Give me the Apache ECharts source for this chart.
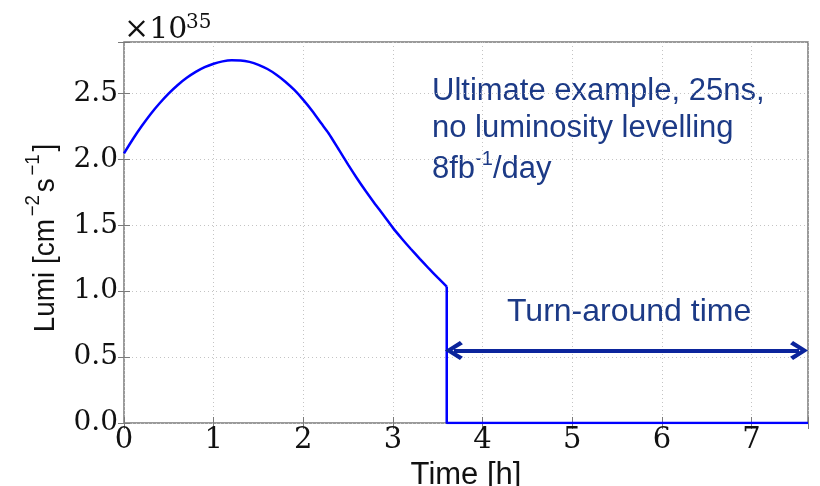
<!DOCTYPE html>
<html>
<head>
<meta charset="utf-8">
<script src="https://cdn.jsdelivr.net/npm/echarts@6/dist/echarts.min.js"></script>
<style>
  html, body { margin: 0; padding: 0; background: #fff; }
  #chart { width: 820px; height: 486px; }
</style>
</head>
<body>
<div id="chart"></div>
<script>
// luminosity over one fill (units of 1e35 cm^-2 s^-1)
const timeH = [0, 0.1, 0.2, 0.3, 0.4, 0.5, 0.6, 0.7, 0.8, 0.9, 1.0, 1.1, 1.2, 1.3, 1.4,
  1.5, 1.6, 1.7, 1.8, 1.9, 2.0, 2.1, 2.2, 2.28, 2.4, 2.5, 2.6, 2.7, 2.8, 2.9, 3.0,
  3.1, 3.2, 3.3, 3.4, 3.5, 3.6];
const lumi = [2.045, 2.154, 2.254, 2.346, 2.427, 2.50, 2.564, 2.618, 2.663, 2.699, 2.725,
  2.743, 2.751, 2.750, 2.739, 2.717, 2.685, 2.642, 2.589, 2.526, 2.451, 2.367, 2.273,
  2.20, 2.07, 1.96, 1.855, 1.756, 1.662, 1.572, 1.48, 1.398, 1.32, 1.245, 1.172, 1.102,
  1.035];
// beam dump, then nothing until the next fill
const dumpTime = [3.6, 3.6, 7.63];
const dumpLumi = [1.035, 0, 0];

const xRange = [0, 7.63];
const yRange = [0, 2.89];
// turn-around arrow shaft (the heads sit centred on the ends)
const arrowX = [3.68, 7.53];
const arrowY = 0.55;

const noteLines = ['Ultimate example, 25ns,', 'no luminosity levelling'];
const rateLabel = ['8fb', '-1', '/day'];

const gridColor = '#c4c4c4';
const frameColor = '#7a7a7a';
const noteColor = '#1c3a86';
const arrowColor = '#0b249c';
const lineColor = '#0000ff';
const tickFont = 'DejaVu Serif';
const textFont = 'Liberation Sans, Arial, sans-serif';

const chart = echarts.init(document.getElementById('chart'));

function valueAxis(range, interval, extra) {
  return {
    type: 'value',
    min: range[0],
    max: range[1],
    interval,
    axisLine: { show: false },
    axisTick: { show: true, inside: true, length: 6, lineStyle: { color: frameColor, width: 1 } },
    splitLine: { show: false },
    axisLabel: { show: false },
    ...extra,
  };
}

const onTick = (v, step) => Math.abs(v / step - Math.round(v / step)) < 1e-6;
const pairs = (xs, ys) => xs.map((x, idx) => [x, ys[idx]]);

const option = {
  animation: false,
  grid: {
    left: 124, top: 42, right: 12, bottom: 63,
    outerBoundsMode: 'none',
    containLabel: false,
    show: true, borderColor: frameColor, borderWidth: 1.5,
  },
  xAxis: [
    valueAxis(xRange, 1, {
      position: 'bottom',
      splitLine: { show: true, lineStyle: { color: gridColor, type: [1, 3], width: 1 } },
      axisLabel: {
        show: true, margin: 3, color: '#111', fontFamily: tickFont, fontSize: 29,
        formatter: (v) => (onTick(v, 1) ? String(v) : ''),
      },
      name: 'Time [h]',
      nameLocation: 'middle',
      nameGap: 30,
      nameTextStyle: { fontFamily: textFont, fontSize: 31, color: '#111' },
    }),
    valueAxis(xRange, 1, { position: 'top' }),
  ],
  yAxis: [
    valueAxis(yRange, 0.5, {
      position: 'left',
      splitLine: { show: true, lineStyle: { color: gridColor, type: [1, 3], width: 1 } },
      axisLabel: {
        show: true, margin: 6, color: '#111', fontFamily: tickFont, fontSize: 28,
        formatter: (v) => (onTick(v, 0.5) ? v.toFixed(1) : ''),
      },
    }),
    valueAxis(yRange, 0.5, { position: 'right' }),
  ],
  series: [
    {
      type: 'line',
      data: pairs(timeH, lumi),
      showSymbol: false,
      smooth: 0.2,
      lineStyle: { color: lineColor, width: 2.5 },
      z: 3,
    },
    {
      type: 'line',
      data: pairs(dumpTime, dumpLumi),
      showSymbol: false,
      lineStyle: { color: lineColor, width: 2.5 },
      z: 3,
      markLine: {
        silent: true,
        symbol: ['path://M10,0 L20,15 L16.5,18 L10,7.5 L3.5,18 L0,15 Z',
          'path://M10,0 L20,15 L16.5,18 L10,7.5 L3.5,18 L0,15 Z'],
        symbolSize: [19, 18],
        label: { show: false },
        lineStyle: { color: arrowColor, width: 4, type: 'solid' },
        itemStyle: { color: arrowColor },
        data: [[{ coord: [arrowX[0], arrowY] }, { coord: [arrowX[1], arrowY] }]],
      },
    },
  ],
  graphic: [
    {
      type: 'text', x: 124, y: 30,
      style: { text: '×10', fontFamily: tickFont, fontSize: 30, fill: '#111', verticalAlign: 'middle' },
    },
    {
      type: 'text', x: 186, y: 23,
      style: { text: '35', fontFamily: tickFont, fontSize: 20, fill: '#111', verticalAlign: 'middle' },
    },
    {
      type: 'text', x: 42, y: 238, rotation: Math.PI / 2, scaleX: 0.93,
      style: {
        text: '{b|Lumi [cm}{s|−2}{b|s}{s|−1}{b|]}',
        align: 'center',
        verticalAlign: 'middle',
        rich: {
          b: { fontFamily: textFont, fontSize: 30, lineHeight: 38, verticalAlign: 'bottom', fill: '#111' },
          s: { fontFamily: textFont, fontSize: 20, lineHeight: 20, verticalAlign: 'top', fill: '#111', padding: [0, 3] },
        },
      },
    },
    ...noteLines.map((line, idx) => ({
      type: 'text', x: 432, y: 91 + idx * 37,
      style: { text: line, fontFamily: textFont, fontSize: 31, fill: noteColor, verticalAlign: 'middle' },
    })),
    {
      type: 'text', x: 432, y: 167,
      style: {
        text: `{n|${rateLabel[0]}}{s|${rateLabel[1]}}{n|${rateLabel[2]}}`,
        verticalAlign: 'middle',
        rich: {
          n: { fontFamily: textFont, fontSize: 31, lineHeight: 36, verticalAlign: 'bottom', fill: noteColor },
          s: { fontFamily: textFont, fontSize: 20, lineHeight: 20, verticalAlign: 'top', fill: noteColor },
        },
      },
    },
    {
      type: 'text', x: 507, y: 312,
      style: { text: 'Turn-around time', fontFamily: textFont, fontSize: 32, fill: noteColor, verticalAlign: 'middle' },
    },
  ],
};

chart.setOption(option);
</script>
</body>
</html>
